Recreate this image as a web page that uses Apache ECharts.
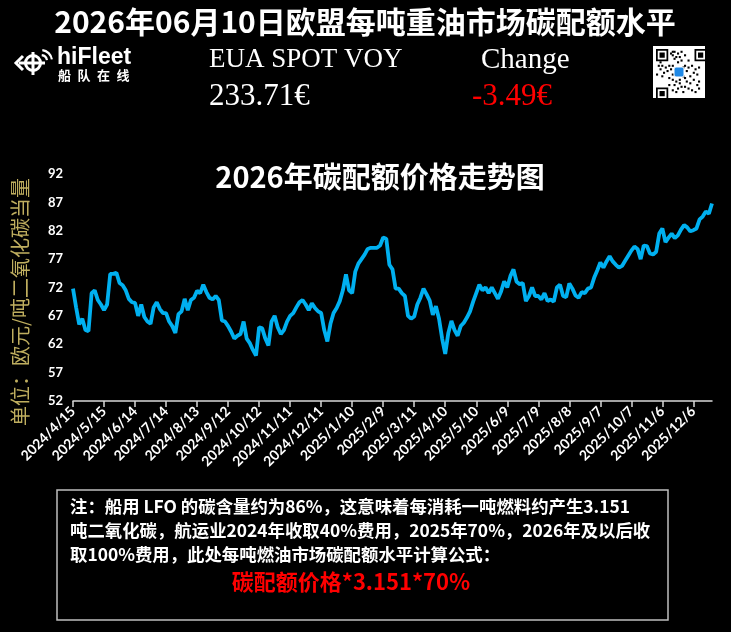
<!DOCTYPE html>
<html>
<head>
<meta charset="utf-8">
<script src="https://cdn.jsdelivr.net/npm/echarts@6/dist/echarts.min.js"></script>
<style>
html,body{margin:0;padding:0;background:#000;}
#chart{width:731px;height:632px;}
</style>
</head>
<body>
<div id="chart"></div>
<script>
// ---- data ----
const startDate = [2024, 4, 15];   // first category (y, m, d)
const stepDays = 3;                // spacing of sampled categories
const pointCount = 207;
const categories = [];
for (let k = 0; k < pointCount; k++) {
  const d = new Date(Date.UTC(startDate[0], startDate[1] - 1, startDate[2]) + k * stepDays * 86400000);
  categories.push(d.getUTCFullYear() + '/' + (d.getUTCMonth() + 1) + '/' + d.getUTCDate());
}
const yTicks = [52, 57, 62, 67, 72, 77, 82, 87, 92];
const priceValues = [
  71.8, 68.5, 65.5, 66.5, 64.5, 64.3, 71.0, 71.5, 69.8, 69.0,
  68.0, 69.0, 74.4, 74.4, 74.6, 72.8, 72.4, 71.5, 70.0, 69.4,
  69.3, 67.0, 69.0, 66.8, 66.0, 65.6, 68.5, 69.4, 68.2, 67.5,
  67.5, 66.0, 65.2, 64.0, 67.3, 67.8, 70.0, 68.0, 69.8, 70.2,
  71.4, 71.0, 72.5, 71.2, 70.2, 69.9, 70.5, 69.8, 66.2, 66.0,
  65.2, 64.2, 63.0, 63.5, 63.8, 66.0, 63.0, 62.2, 61.0, 60.0,
  65.0, 64.8, 63.0, 61.8, 66.0, 67.0, 65.0, 63.8, 64.5, 66.0,
  67.0, 67.5, 68.5, 69.4, 69.8, 69.0, 68.0, 69.2, 68.4, 67.8,
  67.5, 64.5, 62.5, 65.6, 67.5, 68.4, 69.6, 71.5, 74.3, 71.5,
  71.0, 74.8, 76.2, 77.0, 77.8, 78.8, 79.0, 79.0, 79.0, 79.4,
  80.8, 80.6, 76.0, 75.2, 71.8, 71.8, 71.0, 70.5, 67.0, 66.5,
  66.9, 69.0, 70.2, 71.8, 70.8, 69.7, 67.2, 68.7, 66.5, 63.0,
  60.3, 64.0, 66.1, 64.5, 63.5, 65.2, 65.8, 66.7, 67.8, 69.5,
  71.0, 72.5, 71.5, 72.0, 71.0, 72.0, 71.0, 70.0, 71.3, 73.1,
  72.0, 74.0, 75.2, 73.0, 72.6, 72.8, 69.6, 70.5, 72.0, 70.5,
  70.5, 69.9, 71.0, 69.6, 69.9, 69.5, 72.0, 72.5, 70.5, 70.3,
  72.7, 71.8, 70.6, 70.2, 71.2, 71.0, 71.8, 72.0, 73.7, 75.0,
  76.4, 75.5, 76.6, 77.5, 76.6, 76.0, 75.5, 75.8, 76.7, 77.6,
  78.5, 79.2, 78.8, 77.0, 79.4, 79.3, 78.0, 77.8, 78.3, 81.5,
  82.4, 80.0, 80.8, 81.5, 80.7, 81.2, 82.2, 83.0, 82.6, 81.9,
  82.1, 82.4, 84.0, 84.5, 85.4, 85.0, 86.8
];
const headerTitle = '2026年06月10日欧盟每吨重油市场碳配额水平';
const chartTitle = '2026年碳配额价格走势图';
const yName = '单位：欧元/吨二氧化碳当量';
const quoteLabel = 'EUA SPOT VOY';
const quoteValue = '233.71€';
const changeLabel = 'Change';
const changeValue = '-3.49€';
const noteLines = [
  '注：船用 LFO 的碳含量约为86%，这意味着每消耗一吨燃料约产生3.151',
  '吨二氧化碳，航运业2024年收取40%费用，2025年70%，2026年及以后收',
  '取100%费用，此处每吨燃油市场碳配额水平计算公式：'
];
const formulaText = '碳配额价格*3.151*70%';
const logoName = 'hiFleet';
const logoSub = ['船', '队', '在', '线'];

// ---- drawing ----
function txt(x, y, text, font, fill, align, valign, extra) {
  return Object.assign({
    type: 'text', x: x, y: y, silent: true,
    style: { text: text, font: font, fill: fill,
      align: align || 'left', verticalAlign: valign || 'middle',
      textAlign: align || 'left', textVerticalAlign: valign || 'middle' }
  }, extra || {});
}
const CJK = '"Noto Sans CJK SC"';
const graphics = [];
graphics.push(txt(365, 22, headerTitle, 'bold 30px ' + CJK, '#fff', 'center'));
graphics.push(txt(209, 60, quoteLabel, '27px "Liberation Serif"', '#fff'));
graphics.push(txt(481, 60, changeLabel, '29px "Liberation Serif"', '#fff'));
graphics.push(txt(209, 97, quoteValue, '31px "Liberation Serif"', '#fff'));
graphics.push(txt(472, 97, changeValue, '31px "Liberation Serif"', '#ff0000'));
graphics.push(txt(380, 177, chartTitle, 'bold 29px ' + CJK, '#fff', 'center'));
graphics.push(txt(20, 302, yName, '20px ' + CJK, '#bfae5f', 'center', 'middle', { rotation: Math.PI / 2 }));

// logo
const W = '#fff';
graphics.push({ type: 'circle', silent: true, shape: { cx: 33, cy: 63, r: 7.5 }, style: { fill: 'none', stroke: W, lineWidth: 3 } });
graphics.push({ type: 'line', silent: true, shape: { x1: 33, y1: 52, x2: 33, y2: 75 }, style: { stroke: W, lineWidth: 3 } });
graphics.push({ type: 'line', silent: true, shape: { x1: 19, y1: 63, x2: 45, y2: 63 }, style: { stroke: W, lineWidth: 3 } });
graphics.push({ type: 'polyline', silent: true, shape: { points: [[23, 56], [16, 63], [23, 70]] }, style: { fill: 'none', stroke: W, lineWidth: 3 } });
graphics.push({ type: 'arc', silent: true, shape: { cx: 41, cy: 61, r: 6, startAngle: -1.45, endAngle: -0.15, clockwise: true }, style: { fill: 'none', stroke: W, lineWidth: 2.2 } });
graphics.push({ type: 'arc', silent: true, shape: { cx: 41, cy: 61, r: 11, startAngle: -1.45, endAngle: -0.15, clockwise: true }, style: { fill: 'none', stroke: W, lineWidth: 2.2 } });
graphics.push(txt(57, 58, logoName, 'bold 23px "Liberation Sans"', W));
logoSub.forEach(function (c, i) { graphics.push(txt(58 + i * 19.5, 75, c, 'bold 13px ' + CJK, W)); });

// QR code (decorative)
const qx = 653, qy = 46, qs = 52, m = 1.75;
graphics.push({ type: 'rect', silent: true, shape: { x: qx, y: qy, width: qs, height: qs }, style: { fill: '#fff' } });
[[3, 3], [3 + 22 * m, 3], [3, 3 + 22 * m]].forEach(function (p) {
  const x = qx + p[0], y = qy + p[1];
  graphics.push({ type: 'rect', silent: true, shape: { x: x, y: y, width: 7 * m, height: 7 * m }, style: { fill: '#000' } });
  graphics.push({ type: 'rect', silent: true, shape: { x: x + m, y: y + m, width: 5 * m, height: 5 * m }, style: { fill: '#fff' } });
  graphics.push({ type: 'rect', silent: true, shape: { x: x + 2 * m, y: y + 2 * m, width: 3 * m, height: 3 * m }, style: { fill: '#000' } });
});
const qrModules = [
  [9,1],[10,1],[12,2],[14,1],[9,3],[11,4],[13,4],[10,5],[14,6],[12,7],
  [1,9],[3,9],[5,10],[2,11],[6,12],[4,13],[0,14],[3,15],[7,9],[8,11],
  [16,9],[18,10],[20,9],[22,11],[24,10],[17,12],[21,13],[23,14],[19,15],[16,16],
  [9,17],[11,18],[13,19],[10,20],[14,21],[12,22],[9,23],[15,24],[11,24],[13,17],
  [17,18],[19,19],[21,17],[23,20],[18,22],[20,23],[22,24],[24,22],[16,21],[24,18],
  [9,9],[15,10],[9,14],[15,15],[7,16],[2,7],[8,2],[16,3],[18,6],[7,20]
];
qrModules.forEach(function (p) {
  graphics.push({ type: 'rect', silent: true, shape: { x: qx + 3 + p[0] * m, y: qy + 3 + p[1] * m, width: m * 1.2, height: m * 1.2 }, style: { fill: '#000' } });
});
graphics.push({ type: 'rect', silent: true, shape: { x: qx + 21, y: qy + 21, width: 10, height: 10, r: 2 }, style: { fill: '#1e88e5', stroke: '#fff', lineWidth: 1 } });

// note box
graphics.push({ type: 'rect', silent: true, shape: { x: 57, y: 490, width: 611, height: 130 }, style: { fill: 'none', stroke: '#bfbfbf', lineWidth: 1.5 } });
noteLines.forEach(function (l, i) { graphics.push(txt(70, 506 + i * 24, l, 'bold 17.4px ' + CJK, '#fff')); });
graphics.push(txt(351, 582, formulaText, 'bold 22px ' + CJK, '#ff0000', 'center'));

const chart = echarts.init(document.getElementById('chart'));
chart.setOption({
  backgroundColor: '#000',
  animation: false,
  grid: { left: 73, right: 19, top: 174, bottom: 231 },
  xAxis: {
    type: 'category', data: categories, boundaryGap: false,
    axisLine: { lineStyle: { color: '#d9d9d9', width: 1.5 } },
    axisTick: { show: true, interval: 9, length: 6, lineStyle: { color: '#d9d9d9', width: 1.5 } },
    axisLabel: { interval: 9, rotate: 45, color: '#fff', fontFamily: 'Lato', fontWeight: 'bold', fontSize: 14, margin: 8 },
    splitLine: { show: false }
  },
  yAxis: {
    type: 'value', min: 52, max: 92,
    axisLine: { show: false }, axisTick: { show: false }, splitLine: { show: false },
    axisLabel: { customValues: yTicks, color: '#fff', fontFamily: 'Lato', fontWeight: 'bold', fontSize: 13, margin: 10 }
  },
  series: [{
    type: 'line', data: priceValues, showSymbol: false, symbol: 'none',
    lineStyle: { color: '#00b0f0', width: 3.8 }, itemStyle: { color: '#00b0f0' }
  }],
  graphic: graphics
});
</script>
</body>
</html>
